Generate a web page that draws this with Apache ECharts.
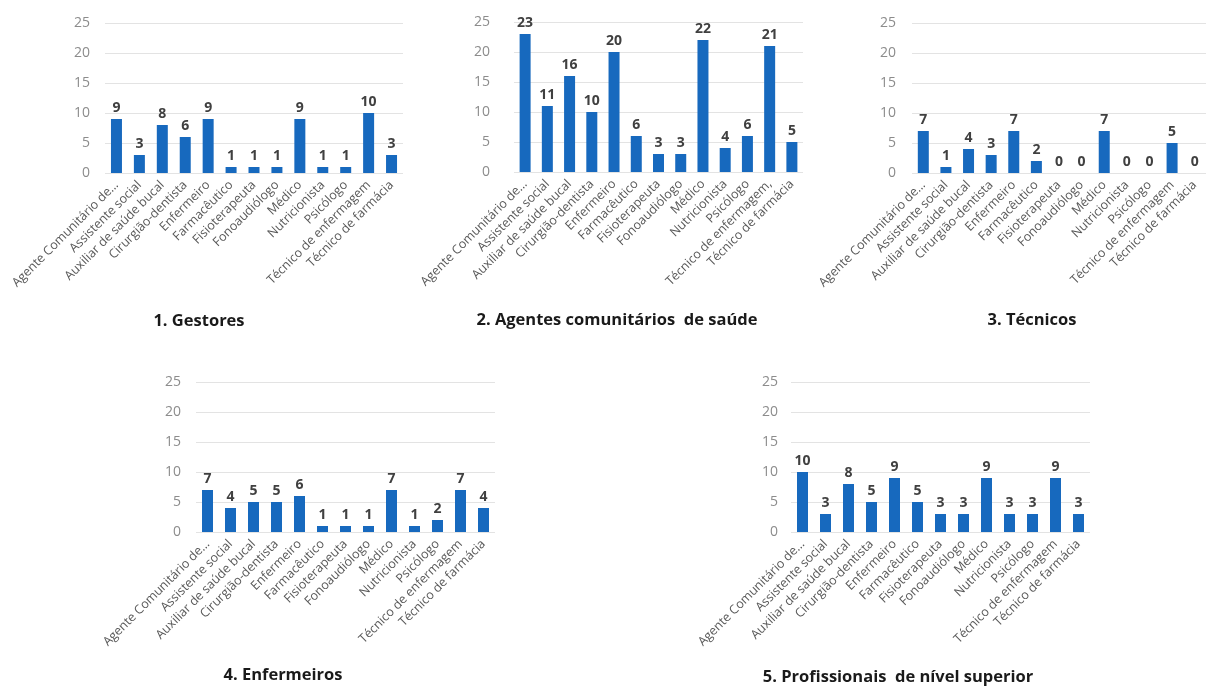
<!DOCTYPE html>
<html>
<head>
<meta charset="utf-8">
<script src="https://cdn.jsdelivr.net/npm/echarts@6/dist/echarts.min.js"></script>
<style>html,body{margin:0;padding:0;background:#fff;}#c{width:1206px;height:691px;}</style>
</head>
<body>
<div id="c"></div>
<script>
var categories = ['Agente Comunitário de…','Assistente social','Auxiliar de saúde bucal','Cirurgião-dentista','Enfermeiro','Farmacêutico','Fisioterapeuta','Fonoaudiólogo','Médico','Nutricionista','Psicólogo','Técnico de enfermagem','Técnico de farmácia'];
var categoriesAgentes = ['Agente Comunitário de…','Assistente social','Auxiliar de saúde bucal','Cirurgião-dentista','Enfermeiro','Farmacêutico','Fisioterapeuta','Fonoaudiólogo','Médico','Nutricionista','Psicólogo','Técnico de enfermagem,','Técnico de farmácia'];
var gestores = [9,3,8,6,9,1,1,1,9,1,1,10,3];
var agentes = [23,11,16,10,20,6,3,3,22,4,6,21,5];
var tecnicos = [7,1,4,3,7,2,0,0,7,0,0,5,0];
var enfermeiros = [7,4,5,5,6,1,1,1,7,1,2,7,4];
var superior = [10,3,8,5,9,5,3,3,9,3,3,9,3];
var titles = ['1. Gestores','2. Agentes comunitários  de saúde','3. Técnicos','4. Enfermeiros','5. Profissionais  de nível superior'];
var yTicks = [0,5,10,15,20,25];

var panels = [
  {cats: categories, data: gestores, grid: {left:105, top:23, width:298, height:150}, ym:15, tx:199, ty:313},
  {cats: categoriesAgentes, data: agentes, grid: {left:514, top:22, width:289, height:150}, ym:24, tx:617, ty:312},
  {cats: categories, data: tecnicos, grid: {left:912, top:23, width:297, height:150}, ym:16, tx:1032, ty:312},
  {cats: categories, data: enfermeiros, grid: {left:196, top:382, width:299, height:150}, ym:15, tx:283, ty:667},
  {cats: categories, data: superior, grid: {left:791, top:382, width:299, height:150}, ym:13, tx:898, ty:669}
];

var font = 'Open Sans';
var grids = [], xAxes = [], yAxes = [], series = [], graphics = [];
panels.forEach(function(p, i){
  grids.push(p.grid);
  xAxes.push({
    type:'category', gridIndex:i, data:p.cats,
    axisLine:{show:false}, axisTick:{show:false},
    axisLabel:{interval:0, rotate:45, fontSize:12.5, color:'#595959', fontFamily:font, margin:10}
  });
  yAxes.push({
    type:'value', gridIndex:i, min:0, max:25, interval:5,
    axisLine:{show:false}, axisTick:{show:false},
    axisLabel:{fontSize:14, color:'#8c8c8c', fontFamily:font, margin:p.ym},
    splitLine:{lineStyle:{color:'#e3e3e3', width:1}}
  });
  series.push({
    type:'bar', xAxisIndex:i, yAxisIndex:i, data:p.data, barWidth:11,
    itemStyle:{color:'#1769be'},
    label:{show:true, position:'top', distance:4, fontSize:14, fontWeight:'bold', color:'#404040', fontFamily:font}
  });
  graphics.push({
    type:'text', x:p.tx, y:p.ty,
    style:{text:titles[i], fontSize:16.5, fontWeight:'bold', fill:'#1a1a1a', fontFamily:font, textAlign:'center'}
  });
});

var chart = echarts.init(document.getElementById('c'));
chart.setOption({
  animation:false,
  backgroundColor:'#ffffff',
  grid:grids, xAxis:xAxes, yAxis:yAxes, series:series,
  graphic:graphics
});
</script>
</body>
</html>
